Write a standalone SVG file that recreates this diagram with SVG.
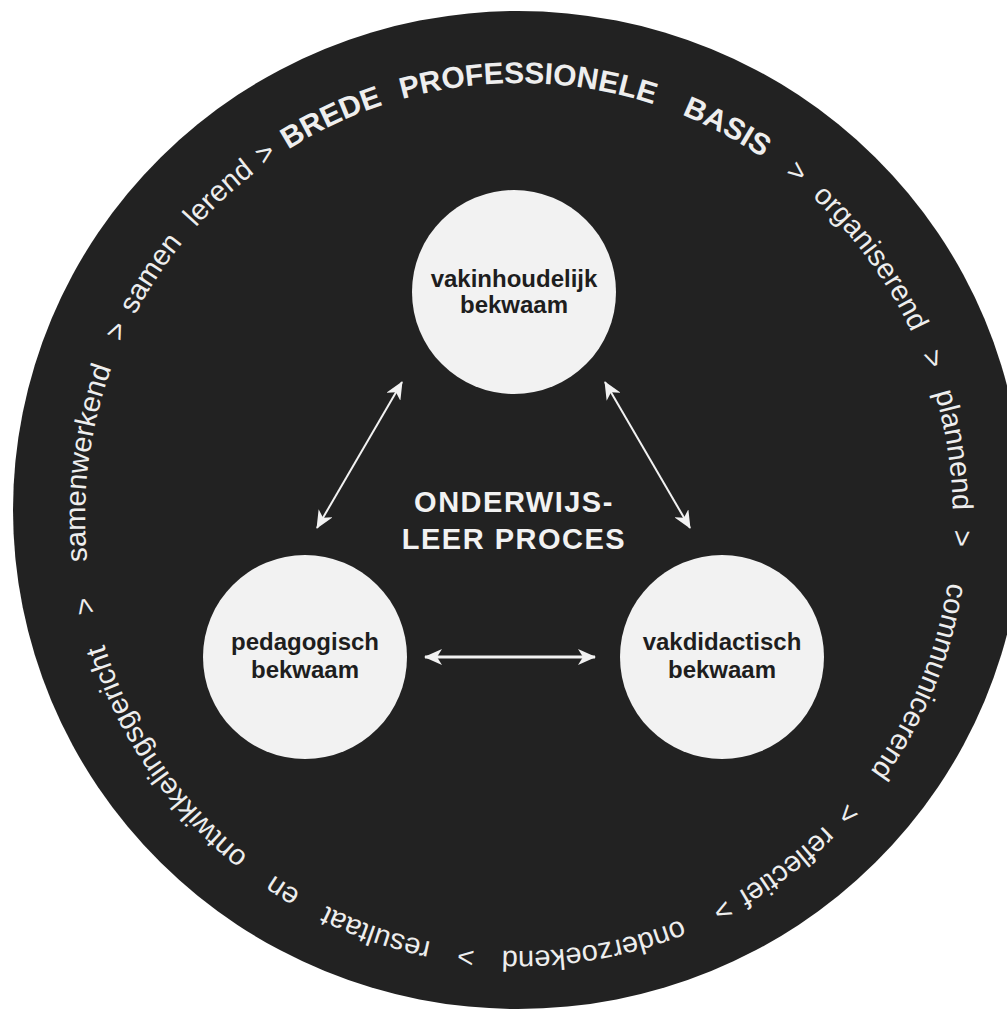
<svg xmlns="http://www.w3.org/2000/svg" xmlns:xlink="http://www.w3.org/1999/xlink" width="1007" height="1010" viewBox="0 0 1007 1010">
  <style>
    .ring { font-family: "Liberation Sans", Arial, sans-serif; font-size: 29px; fill: #eeeeee; }
    .caps { font-weight: bold; font-size: 30px; }
    .node circle { fill: #f2f2f2; }
    .node text { font-family: "Liberation Sans", Arial, sans-serif; font-size: 24px; font-weight: bold; fill: #1e1e1e; text-anchor: middle; }
    .center { font-family: "Liberation Sans", Arial, sans-serif; font-size: 29px; font-weight: bold; fill: #f2f2f2; text-anchor: middle; letter-spacing: 1.5px; }
    .conn line { stroke: #f2f2f2; fill: none; marker-start: url(#arrow); marker-end: url(#arrow); }
  </style>
  <defs>
    <path id="ringPath" d="M519,83 A434,434 0 0 1 519,951 A434,434 0 0 1 519,83 A434,434 0 0 1 519,951 A434,434 0 0 1 519,83"/>
    <marker id="arrow" markerUnits="userSpaceOnUse" markerWidth="18" markerHeight="16" refX="17" refY="8" orient="auto-start-reverse" viewBox="0 0 18 16">
      <path d="M0,0 L18,8 L0,16 L5,8 Z" fill="#f2f2f2"/>
    </marker>
  </defs>

  <g id="background">
    <ellipse cx="518" cy="510" rx="505" ry="499" fill="#222222"/>
  </g>

  <g id="ring-text" class="ring" text-anchor="middle">
    <text><textPath xlink:href="#ringPath" startOffset="45.15%">&gt;</textPath></text>
    <text class="caps"><textPath xlink:href="#ringPath" startOffset="46.5%">BREDE</textPath></text>
    <text class="caps"><textPath xlink:href="#ringPath" startOffset="50.17%">PROFESSIONELE</textPath></text>
    <text class="caps"><textPath xlink:href="#ringPath" startOffset="53.9%">BASIS</textPath></text>
    <text><textPath xlink:href="#ringPath" startOffset="55.4%">&gt;</textPath></text>
    <text><textPath xlink:href="#ringPath" startOffset="57.45%">organiserend</textPath></text>
    <text><textPath xlink:href="#ringPath" startOffset="59.6%">&gt;</textPath></text>
    <text><textPath xlink:href="#ringPath" startOffset="61.28%">plannend</textPath></text>
    <text><textPath xlink:href="#ringPath" startOffset="62.89%">&gt;</textPath></text>
    <text><textPath xlink:href="#ringPath" startOffset="65.6%">communicerend</textPath></text>
    <text><textPath xlink:href="#ringPath" startOffset="68.35%">&gt;</textPath></text>
    <text><textPath xlink:href="#ringPath" startOffset="69.8%">reflectief</textPath></text>
    <text><textPath xlink:href="#ringPath" startOffset="71.2%">&gt;</textPath></text>
    <text><textPath xlink:href="#ringPath" startOffset="73.63%">onderzoekend</textPath></text>
    <text><textPath xlink:href="#ringPath" startOffset="75.96%">&gt;</textPath></text>
    <text><textPath xlink:href="#ringPath" startOffset="77.64%">resultaat</textPath></text>
    <text><textPath xlink:href="#ringPath" startOffset="79.49%">en</textPath></text>
    <text><textPath xlink:href="#ringPath" startOffset="82.75%">ontwikkelingsgericht</textPath></text>
    <text><textPath xlink:href="#ringPath" startOffset="85.89%">&gt;</textPath></text>
    <text><textPath xlink:href="#ringPath" startOffset="88.49%">samenwerkend</textPath></text>
    <text><textPath xlink:href="#ringPath" startOffset="90.95%">&gt;</textPath></text>
    <text><textPath xlink:href="#ringPath" startOffset="92.15%">samen</textPath></text>
    <text><textPath xlink:href="#ringPath" startOffset="94.05%">lerend</textPath></text>
  </g>

  <g id="connectors" class="conn">
    <line x1="317" y1="528" x2="402" y2="382" stroke-width="2"/>
    <line x1="690" y1="528" x2="605" y2="382" stroke-width="2"/>
    <line x1="425" y1="657" x2="595" y2="657" stroke-width="3"/>
  </g>

  <g id="node-vakinhoudelijk" class="node">
    <circle cx="514" cy="292" r="102"/>
    <text x="514" y="287">vakinhoudelijk</text>
    <text x="514" y="313">bekwaam</text>
  </g>

  <g id="node-pedagogisch" class="node">
    <circle cx="305" cy="657" r="102"/>
    <text x="305" y="650">pedagogisch</text>
    <text x="305" y="678">bekwaam</text>
  </g>

  <g id="node-vakdidactisch" class="node">
    <circle cx="722" cy="657" r="102"/>
    <text x="722" y="650">vakdidactisch</text>
    <text x="722" y="678">bekwaam</text>
  </g>

  <g id="center-label">
    <text class="center" x="514" y="512">ONDERWIJS-</text>
    <text class="center" x="514" y="549">LEER PROCES</text>
  </g>
</svg>
